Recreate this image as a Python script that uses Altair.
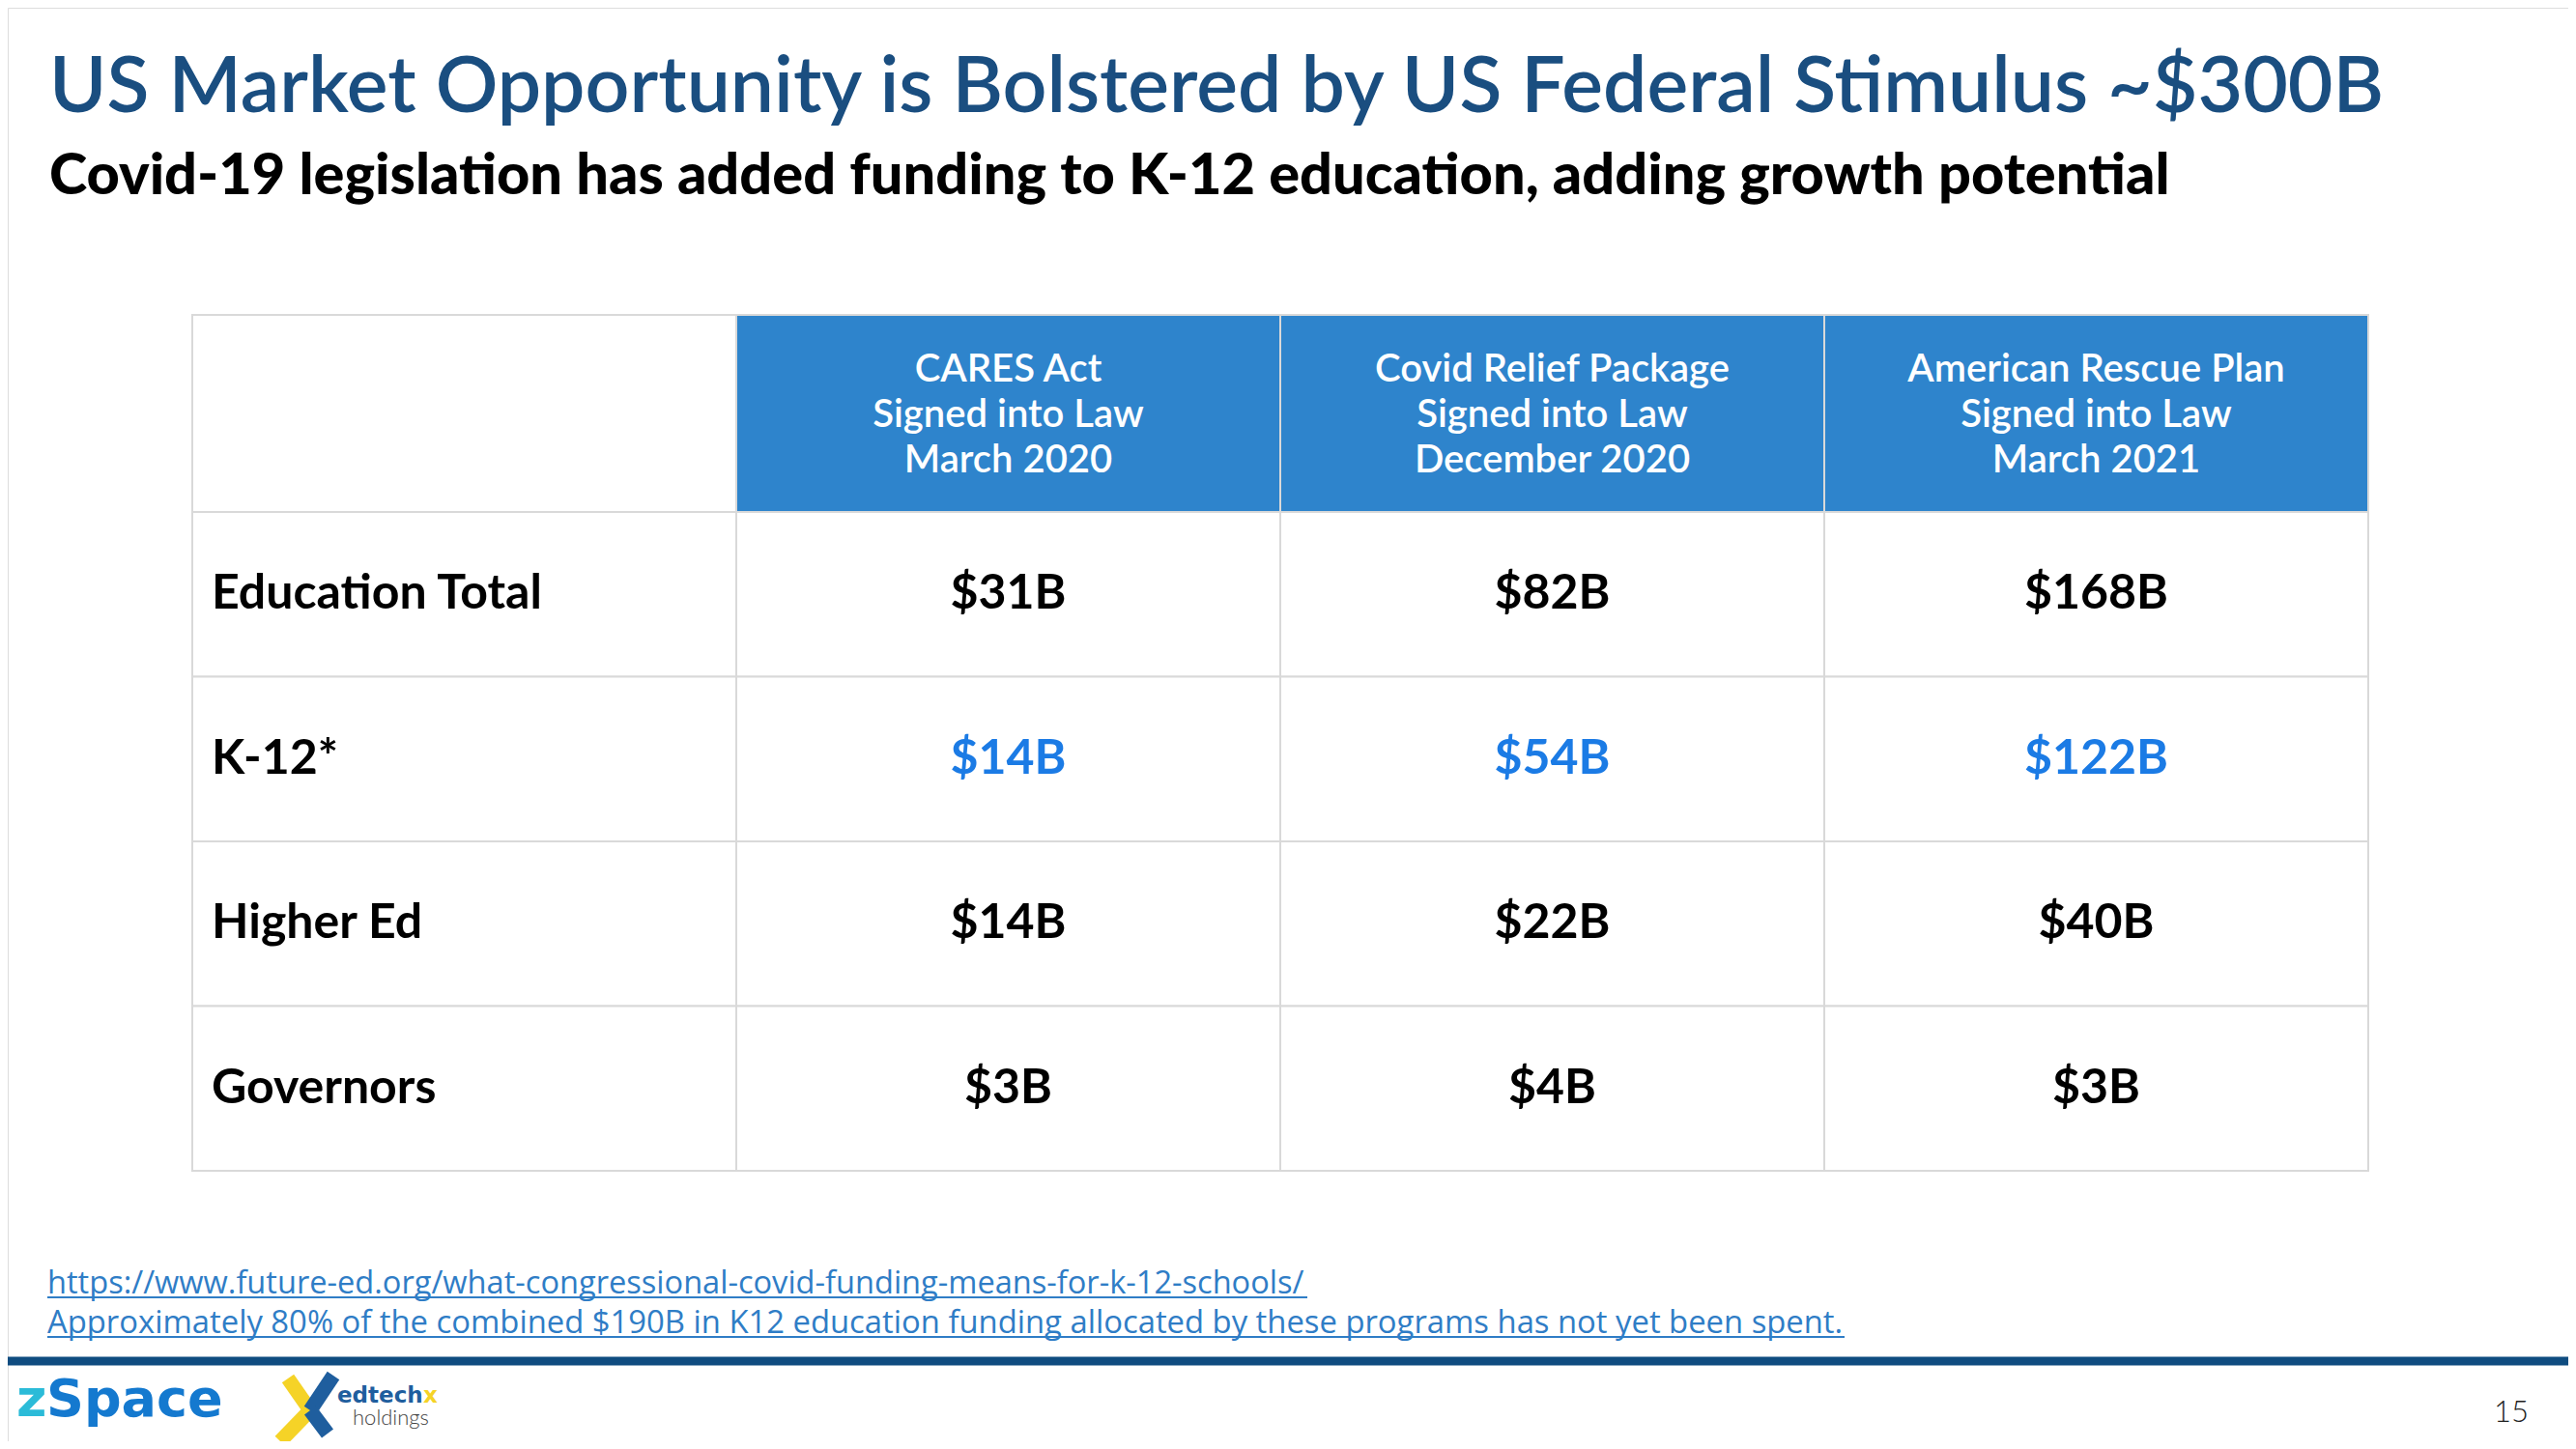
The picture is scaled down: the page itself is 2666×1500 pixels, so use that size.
import altair as alt
import pandas as pd

# ---------------- data ----------------
title_text = "US Market Opportunity is Bolstered by US Federal Stimulus ~$300B"
subtitle_text = "Covid-19 legislation has added funding to K-12 education, adding growth potential"

programs = ["CARES Act", "Covid Relief Package", "American Rescue Plan"]
signed = ["Signed into Law", "Signed into Law", "Signed into Law"]
dates = ["March 2020", "December 2020", "March 2021"]

row_labels = ["Education Total", "K-12*", "Higher Ed", "Governors"]
education_total = ["$31B", "$82B", "$168B"]
k12 = ["$14B", "$54B", "$122B"]
higher_ed = ["$14B", "$22B", "$40B"]
governors = ["$3B", "$4B", "$3B"]

footnotes = [
    "https://www.future-ed.org/what-congressional-covid-funding-means-for-k-12-schools/",
    "Approximately 80% of the combined $190B in K12 education funding allocated by these programs has not yet been spent.",
]
page_number = "15"

# ---------------- styling ----------------
FONT = "Lato"
TITLE_BLUE = "#1A4E80"
HEADER_BLUE = "#2E84CC"
K12_BLUE = "#1B7BE5"
GRID = "#D9D9D9"
LINK = "#2F7DC6"
BAR = "#0F4C80"

W, H = 2650, 1484
OFF = 8  # page margin


def p(v):
    return v - OFF


cols = ["Row"] + programs
value_rows = [education_total, k12, higher_ed, governors]

cells = []
for r, vals in zip(row_labels, value_rows):
    cells.append({"row": r, "col": "Row", "text": r, "color": "black"})
    for c, v in zip(programs, vals):
        cells.append({"row": r, "col": c, "text": v,
                      "color": K12_BLUE if r == "K-12*" else "black"})
cells_df = pd.DataFrame(cells)

header_df = pd.DataFrame(
    [{"col": "Row", "text": "", "fill": "white"}]
    + [{"col": c, "text": f"{c}\n{s}\n{d}", "fill": HEADER_BLUE}
       for c, s, d in zip(programs, signed, dates)]
)

x_scale = alt.Scale(domain=cols, range=[p(199), p(2451)], paddingInner=0, paddingOuter=0)
y_scale = alt.Scale(domain=row_labels, range=[p(530), p(1212)], paddingInner=0, paddingOuter=0)

X = alt.X("col:N", scale=x_scale, axis=None)
Y = alt.Y("row:N", scale=y_scale, axis=None)

base_cells = alt.Chart(cells_df)
base_header = alt.Chart(header_df)

header_rect = base_header.mark_rect(stroke=GRID, strokeWidth=2).encode(
    x=X, y=alt.value(p(326)), y2=alt.value(p(530)),
    fill=alt.Fill("fill:N", scale=None),
)
header_text = base_header.mark_text(
    font=FONT, fontSize=40, fontWeight=600, color="white",
    lineBreak="\n", lineHeight=47, baseline="middle", align="center",
).encode(x=X, y=alt.value(p(383)), text="text:N")

cell_rect = base_cells.mark_rect(fill="white", stroke=GRID, strokeWidth=2).encode(x=X, y=Y)

label_text = base_cells.transform_filter(alt.datum.col == "Row").mark_text(
    font=FONT, fontSize=50, fontWeight="bold", align="left", baseline="middle", dx=20,
).encode(x=alt.X("col:N", scale=x_scale, axis=None, bandPosition=0), y=Y,
         text="text:N", color=alt.Color("color:N", scale=None))

value_text = base_cells.transform_filter(alt.datum.col != "Row").mark_text(
    font=FONT, fontSize=50, fontWeight="bold", align="center", baseline="middle",
).encode(x=X, y=Y, text="text:N", color=alt.Color("color:N", scale=None))

one = pd.DataFrame({"a": [0]})


def txt(text, x, y, **kw):
    return alt.Chart(one).mark_text(text=text, baseline="alphabetic", **kw).encode(
        x=alt.value(p(x)), y=alt.value(p(y)))


def rule(x, y, x2, y2, **kw):
    return alt.Chart(one).mark_rule(**kw).encode(
        x=alt.value(p(x)), y=alt.value(p(y)), x2=alt.value(p(x2)), y2=alt.value(p(y2)))


title = txt(title_text, 51, 116, font=FONT, fontSize=80.5, fontWeight=600,
            color=TITLE_BLUE, align="left")
subtitle = txt(subtitle_text, 51, 201, font=FONT, fontSize=59.5, fontWeight=900,
               color="black", align="left")

fn1 = txt(footnotes[0], 49, 1339, font="Open Sans", fontSize=32.6, color=LINK, align="left")
fn2 = txt(footnotes[1], 49, 1380, font="Open Sans", fontSize=32.8, color=LINK, align="left")
ul1 = rule(49, 1343, 1353, 1343, color=LINK, strokeWidth=2)
ul2 = rule(49, 1384, 1909, 1384, color=LINK, strokeWidth=2)

bar = rule(0, 1409, 2666, 1409, color=BAR, strokeWidth=9)

# logos
zspace_z = txt("z", 17, 1466, font="DejaVu Sans", fontSize=54, fontWeight=700,
               color="#2BBBD8", align="left")
zspace = txt("Space", 17 + 31, 1466, font="DejaVu Sans", fontSize=54, fontWeight=700,
             color="#1479CF", align="left")

YEL = "#F5D327"
DBL = "#1F5E9E"
x_y1 = rule(298, 1427, 321, 1460, color=YEL, strokeWidth=15, strokeCap="butt")
x_y2 = rule(321, 1460, 290, 1492, color=YEL, strokeWidth=15, strokeCap="butt")
x_b1 = rule(345, 1424, 321, 1460, color=DBL, strokeWidth=15, strokeCap="butt")
x_b2 = rule(321, 1460, 339, 1484, color=DBL, strokeWidth=15, strokeCap="butt")

edtech = txt("edtech", 349, 1452, font="DejaVu Sans", fontSize=23, fontWeight=700,
             color=DBL, align="left")
edtech_x = txt("x", 349 + 89, 1452, font="DejaVu Sans", fontSize=23, fontWeight=700,
               color=YEL, align="left")
holdings = txt("holdings", 365, 1475, font=FONT, fontSize=22, fontWeight=300,
               color="#444444", align="left")

pagenum = txt(page_number, 2617, 1472, font=FONT, fontSize=31, fontWeight=300,
              color="#222222", align="right")

chart = alt.layer(
    cell_rect, header_rect, header_text, label_text, value_text,
    title, subtitle, fn1, fn2, ul1, ul2, bar,
    zspace_z, zspace, x_y1, x_y2, x_b1, x_b2, edtech, edtech_x, holdings, pagenum,
).properties(
    width=W, height=H, padding=0, autosize=alt.AutoSizeParams(type="none"),
).configure_view(stroke="transparent", strokeWidth=0, strokeOpacity=0).configure(background="white")

chart.save("out.html", embed_options={"renderer": "svg", "actions": False})
